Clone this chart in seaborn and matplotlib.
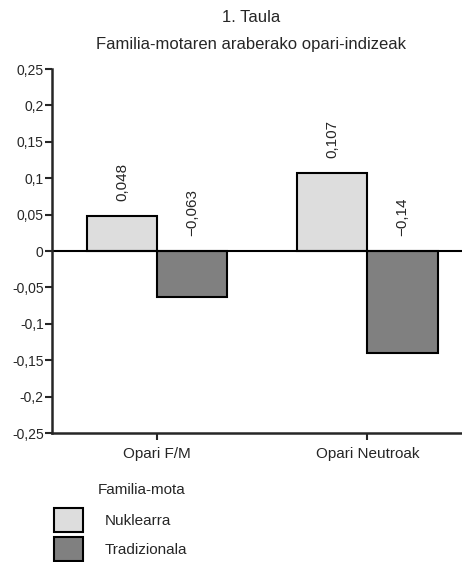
import pandas as pd
import matplotlib
matplotlib.use("Agg")
import matplotlib.pyplot as plt
import seaborn as sns

# chart data
categories = ["Opari F/M", "Opari Neutroak"]
family_types = ["Nuklearra", "Tradizionala"]
nuklearra = [0.048, 0.107]
tradizionala = [-0.063, -0.14]
value_labels = {"Nuklearra": ["0,048", "0,107"], "Tradizionala": ["\u22120,063", "\u22120,14"]}
yticks = [-0.25, -0.2, -0.15, -0.1, -0.05, 0, 0.05, 0.1, 0.15, 0.2, 0.25]
ytick_labels = ["-0,25", "-0,2", "-0,15", "-0,1", "-0,05", "0", "0,05", "0,1", "0,15", "0,2", "0,25"]

df = pd.DataFrame({
    "Opari": categories * 2,
    "Familia": [family_types[0]] * 2 + [family_types[1]] * 2,
    "Indizea": nuklearra + tradizionala,
})

sns.set_style("white")
plt.rcParams["font.family"] = ["Liberation Sans", "DejaVu Sans"]

fig = plt.figure(figsize=(4.62, 5.62), dpi=100)
ax = fig.add_axes([0.1126, 0.2295, 0.8874, 0.6477])

sns.barplot(data=df, x="Opari", y="Indizea", hue="Familia", order=categories,
            hue_order=family_types, palette=["#dddddd", "#808080"],
            edgecolor="black", linewidth=1.5, width=0.667, ax=ax)

# value labels, rotated, above the bar (or above zero for negatives)
for cont, fam in zip(ax.containers, family_types):
    for bar, txt in zip(cont, value_labels[fam]):
        x = bar.get_x() + bar.get_width() / 2
        y = max(bar.get_height(), 0)
        ax.annotate(txt, (x, y), xytext=(0, 11), textcoords="offset points",
                    rotation=90, ha="center", va="bottom", fontsize=11)

ax.axhline(0, color="black", lw=1.5)
ax.set_ylim(-0.25, 0.25)
ax.set_xlim(-0.5, 1.45)
ax.set_yticks(yticks)
ax.set_yticklabels(ytick_labels)
ax.set_xlabel("")
ax.set_ylabel("")
ax.tick_params(axis="y", direction="out", length=5, width=1.5, labelsize=10, left=True, pad=1)
ax.tick_params(axis="x", direction="out", length=5, width=1.5, labelsize=11, bottom=True, pad=5)
sns.despine(ax=ax)
ax.spines["left"].set_linewidth(1.8)
ax.spines["bottom"].set_linewidth(1.8)

fig.text(251 / 462, 1 - 18 / 562, "1. Taula", ha="center", va="center", fontsize=12)
fig.text(251 / 462, 1 - 45 / 562, "Familia-motaren araberako opari-indizeak",
         ha="center", va="center", fontsize=12)

# legend below the chart
handles, labels = ax.get_legend_handles_labels()
ax.get_legend().remove()
fig.text(98 / 462, 1 - 490 / 562, "Familia-mota", ha="left", va="center", fontsize=11)
fig.legend(handles, labels, loc="upper left", bbox_to_anchor=(48 / 462, 1 - 502 / 562),
           frameon=False, fontsize=11, handlelength=1.9, handleheight=2.0,
           labelspacing=0.35, handletextpad=1.4, borderaxespad=0)

fig.savefig("out.png", dpi=100)
